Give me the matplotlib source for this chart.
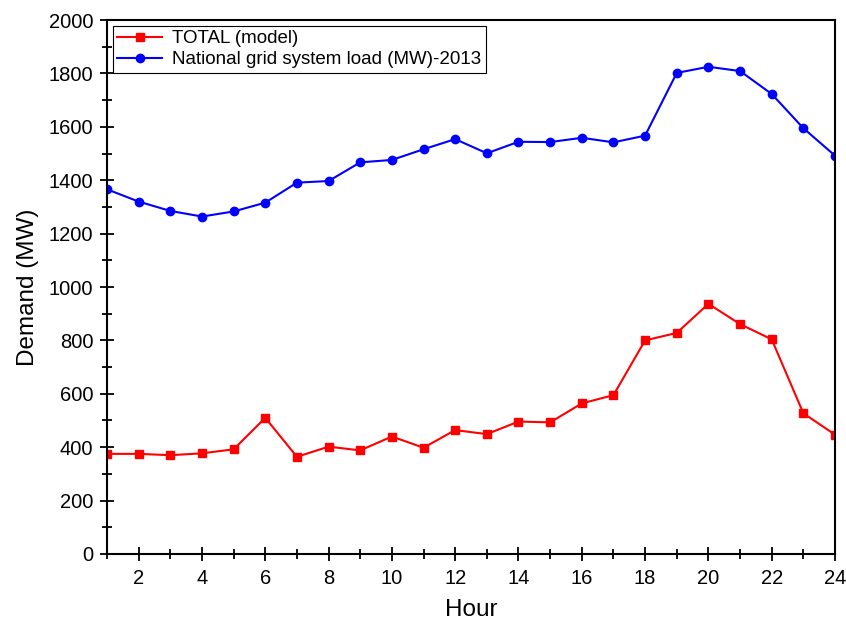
import matplotlib
matplotlib.use("Agg")
import matplotlib.pyplot as plt
from matplotlib.ticker import MultipleLocator

plt.rcParams["font.family"] = ["Liberation Sans", "DejaVu Sans"]

hours = list(range(1, 25))
total_model = [375, 375, 370, 377, 392, 510, 364, 402, 388, 440, 398, 464,
               449, 496, 493, 564, 595, 800, 828, 937, 861, 804, 527, 447]
grid_load_2013 = [1366, 1320, 1285, 1264, 1283, 1316, 1391, 1397, 1467, 1476,
                  1516, 1554, 1501, 1544, 1543, 1559, 1542, 1567, 1802, 1825,
                  1809, 1723, 1595, 1492]

fig = plt.figure(figsize=(8.46, 6.23), dpi=100)
ax = fig.add_axes([0.1265, 0.1108, 0.8605, 0.857])

ax.plot(hours, total_model, "-s", color="#ff0000", lw=1.5, ms=5.5,
        label="TOTAL (model)")
ax.plot(hours, grid_load_2013, "-o", color="#0000ff", lw=1.5, ms=6,
        label="National grid system load (MW)-2013")

ax.set_xlim(1, 24)
ax.set_ylim(0, 2000)
ax.xaxis.set_major_locator(MultipleLocator(2))
ax.xaxis.set_minor_locator(MultipleLocator(1))
ax.yaxis.set_major_locator(MultipleLocator(200))
ax.yaxis.set_minor_locator(MultipleLocator(100))
ax.tick_params(which="both", direction="inout", width=1.3, labelsize=14.5,
               top=False, right=False)
ax.tick_params(which="major", length=10)
ax.tick_params(which="minor", length=7)
ax.tick_params(axis="x", which="both", pad=6)
ax.tick_params(axis="y", which="both", pad=5)
for s in ax.spines.values():
    s.set_linewidth(1.5)

ax.set_xlabel("Hour", fontsize=17.5, labelpad=8)
ax.set_ylabel("Demand (MW)", fontsize=17.5, labelpad=7)

leg = ax.legend(loc="upper left", fontsize=13.5, fancybox=False,
                framealpha=1, edgecolor="black", handlelength=2.4,
                borderpad=0.25, labelspacing=0.2, handletextpad=0.5,
                borderaxespad=0.3)
leg.get_frame().set_linewidth(0.8)

fig.savefig("out.png", dpi=100)
